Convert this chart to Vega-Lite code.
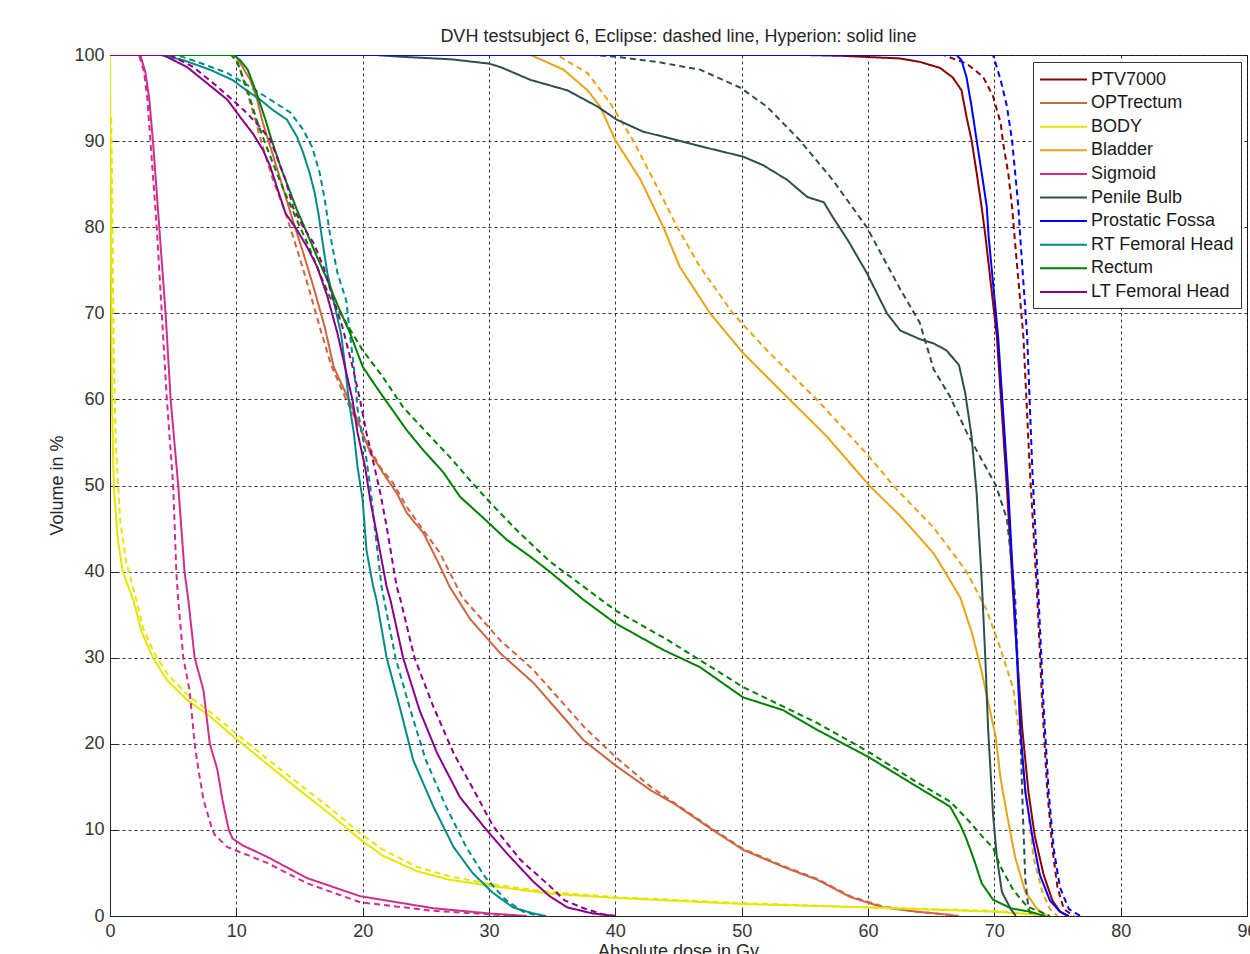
{
"$schema":"https://vega.github.io/schema/vega-lite/v6.json",
"width":1137,"height":861,
"autosize":{"type":"none"},
"padding":{"left":110,"top":55,"right":3,"bottom":38},
"background":"white",
"title":{"text":"DVH testsubject 6, Eclipse: dashed line, Hyperion: solid line","fontSize":18,"fontWeight":"normal","color":"#262626","font":"Liberation Sans","anchor":"middle","offset":0},
"datasets":{"dvh":[
{"roi":"PTV7000","plan":"Hyperion","dose":0,"vol":100},{"roi":"PTV7000","plan":"Hyperion","dose":55,"vol":100},{"roi":"PTV7000","plan":"Hyperion","dose":58,"vol":99.9},{"roi":"PTV7000","plan":"Hyperion","dose":62.5,"vol":99.6},{"roi":"PTV7000","plan":"Hyperion","dose":64.1,"vol":99.2},{"roi":"PTV7000","plan":"Hyperion","dose":65.7,"vol":98.5},{"roi":"PTV7000","plan":"Hyperion","dose":66.7,"vol":97.4},{"roi":"PTV7000","plan":"Hyperion","dose":67.4,"vol":95.9},{"roi":"PTV7000","plan":"Hyperion","dose":67.8,"vol":92.8},{"roi":"PTV7000","plan":"Hyperion","dose":68.2,"vol":90.1},{"roi":"PTV7000","plan":"Hyperion","dose":68.6,"vol":86.3},{"roi":"PTV7000","plan":"Hyperion","dose":69,"vol":82.3},{"roi":"PTV7000","plan":"Hyperion","dose":69.3,"vol":78.9},{"roi":"PTV7000","plan":"Hyperion","dose":70.2,"vol":67.3},{"roi":"PTV7000","plan":"Hyperion","dose":71,"vol":49.6},{"roi":"PTV7000","plan":"Hyperion","dose":71.6,"vol":34.5},{"roi":"PTV7000","plan":"Hyperion","dose":72.2,"vol":21.9},{"roi":"PTV7000","plan":"Hyperion","dose":72.7,"vol":14.4},{"roi":"PTV7000","plan":"Hyperion","dose":73.2,"vol":9.3},{"roi":"PTV7000","plan":"Hyperion","dose":73.9,"vol":4.8},{"roi":"PTV7000","plan":"Hyperion","dose":74.6,"vol":1.8},{"roi":"PTV7000","plan":"Hyperion","dose":75.2,"vol":0.5},{"roi":"PTV7000","plan":"Hyperion","dose":75.8,"vol":0},
{"roi":"PTV7000","plan":"Eclipse","dose":0,"vol":100},{"roi":"PTV7000","plan":"Eclipse","dose":66,"vol":100},{"roi":"PTV7000","plan":"Eclipse","dose":67.8,"vol":99},{"roi":"PTV7000","plan":"Eclipse","dose":69.1,"vol":97.5},{"roi":"PTV7000","plan":"Eclipse","dose":69.9,"vol":95.2},{"roi":"PTV7000","plan":"Eclipse","dose":70.5,"vol":92.1},{"roi":"PTV7000","plan":"Eclipse","dose":70.7,"vol":89.7},{"roi":"PTV7000","plan":"Eclipse","dose":71.1,"vol":86.3},{"roi":"PTV7000","plan":"Eclipse","dose":71.4,"vol":82.4},{"roi":"PTV7000","plan":"Eclipse","dose":71.6,"vol":78.9},{"roi":"PTV7000","plan":"Eclipse","dose":72.3,"vol":67.3},{"roi":"PTV7000","plan":"Eclipse","dose":72.8,"vol":52.1},{"roi":"PTV7000","plan":"Eclipse","dose":73.4,"vol":37},{"roi":"PTV7000","plan":"Eclipse","dose":73.8,"vol":24.4},{"roi":"PTV7000","plan":"Eclipse","dose":74.2,"vol":14.4},{"roi":"PTV7000","plan":"Eclipse","dose":74.6,"vol":7.8},{"roi":"PTV7000","plan":"Eclipse","dose":75,"vol":3.3},{"roi":"PTV7000","plan":"Eclipse","dose":75.5,"vol":0.8},{"roi":"PTV7000","plan":"Eclipse","dose":76.3,"vol":0},
{"roi":"OPTrectum","plan":"Hyperion","dose":0,"vol":100},{"roi":"OPTrectum","plan":"Hyperion","dose":9.9,"vol":100},{"roi":"OPTrectum","plan":"Hyperion","dose":10.5,"vol":98.6},{"roi":"OPTrectum","plan":"Hyperion","dose":11.1,"vol":97.1},{"roi":"OPTrectum","plan":"Hyperion","dose":11.6,"vol":95.1},{"roi":"OPTrectum","plan":"Hyperion","dose":12.1,"vol":92.1},{"roi":"OPTrectum","plan":"Hyperion","dose":12.7,"vol":89.3},{"roi":"OPTrectum","plan":"Hyperion","dose":13.5,"vol":85.5},{"roi":"OPTrectum","plan":"Hyperion","dose":14.3,"vol":81.6},{"roi":"OPTrectum","plan":"Hyperion","dose":15.3,"vol":77},{"roi":"OPTrectum","plan":"Hyperion","dose":16.1,"vol":73.1},{"roi":"OPTrectum","plan":"Hyperion","dose":17,"vol":68.4},{"roi":"OPTrectum","plan":"Hyperion","dose":17.7,"vol":63.8},{"roi":"OPTrectum","plan":"Hyperion","dose":18.8,"vol":60.3},{"roi":"OPTrectum","plan":"Hyperion","dose":19.6,"vol":57.6},{"roi":"OPTrectum","plan":"Hyperion","dose":20.6,"vol":53.8},{"roi":"OPTrectum","plan":"Hyperion","dose":21.6,"vol":51.5},{"roi":"OPTrectum","plan":"Hyperion","dose":22.7,"vol":49.1},{"roi":"OPTrectum","plan":"Hyperion","dose":23.5,"vol":46.8},{"roi":"OPTrectum","plan":"Hyperion","dose":24.8,"vol":44.5},{"roi":"OPTrectum","plan":"Hyperion","dose":25.9,"vol":41.3},{"roi":"OPTrectum","plan":"Hyperion","dose":26.9,"vol":38.2},{"roi":"OPTrectum","plan":"Hyperion","dose":28.5,"vol":34.5},{"roi":"OPTrectum","plan":"Hyperion","dose":30.9,"vol":30.5},{"roi":"OPTrectum","plan":"Hyperion","dose":33.5,"vol":27.1},{"roi":"OPTrectum","plan":"Hyperion","dose":37.5,"vol":20.4},{"roi":"OPTrectum","plan":"Hyperion","dose":40,"vol":17.5},{"roi":"OPTrectum","plan":"Hyperion","dose":42.8,"vol":14.6},{"roi":"OPTrectum","plan":"Hyperion","dose":44.6,"vol":13.1},{"roi":"OPTrectum","plan":"Hyperion","dose":47.7,"vol":10},{"roi":"OPTrectum","plan":"Hyperion","dose":50.1,"vol":7.7},{"roi":"OPTrectum","plan":"Hyperion","dose":53.3,"vol":5.7},{"roi":"OPTrectum","plan":"Hyperion","dose":56,"vol":4.2},{"roi":"OPTrectum","plan":"Hyperion","dose":58.6,"vol":2.2},{"roi":"OPTrectum","plan":"Hyperion","dose":61.2,"vol":1},{"roi":"OPTrectum","plan":"Hyperion","dose":63.9,"vol":0.5},{"roi":"OPTrectum","plan":"Hyperion","dose":66.7,"vol":0.1},{"roi":"OPTrectum","plan":"Hyperion","dose":67,"vol":0},
{"roi":"OPTrectum","plan":"Eclipse","dose":0,"vol":100},{"roi":"OPTrectum","plan":"Eclipse","dose":9.8,"vol":100},{"roi":"OPTrectum","plan":"Eclipse","dose":10.3,"vol":98.3},{"roi":"OPTrectum","plan":"Eclipse","dose":10.8,"vol":95.9},{"roi":"OPTrectum","plan":"Eclipse","dose":11.5,"vol":92.5},{"roi":"OPTrectum","plan":"Eclipse","dose":12.1,"vol":89.3},{"roi":"OPTrectum","plan":"Eclipse","dose":12.9,"vol":85.5},{"roi":"OPTrectum","plan":"Eclipse","dose":13.9,"vol":81.6},{"roi":"OPTrectum","plan":"Eclipse","dose":14.9,"vol":77},{"roi":"OPTrectum","plan":"Eclipse","dose":15.7,"vol":73.1},{"roi":"OPTrectum","plan":"Eclipse","dose":16.6,"vol":68.4},{"roi":"OPTrectum","plan":"Eclipse","dose":17.5,"vol":64},{"roi":"OPTrectum","plan":"Eclipse","dose":18.6,"vol":60.3},{"roi":"OPTrectum","plan":"Eclipse","dose":19.5,"vol":57.5},{"roi":"OPTrectum","plan":"Eclipse","dose":20.2,"vol":55.3},{"roi":"OPTrectum","plan":"Eclipse","dose":21.4,"vol":52.1},{"roi":"OPTrectum","plan":"Eclipse","dose":22.4,"vol":50.3},{"roi":"OPTrectum","plan":"Eclipse","dose":23.5,"vol":47.5},{"roi":"OPTrectum","plan":"Eclipse","dose":24.8,"vol":44.8},{"roi":"OPTrectum","plan":"Eclipse","dose":26.1,"vol":42.2},{"roi":"OPTrectum","plan":"Eclipse","dose":27.9,"vol":37},{"roi":"OPTrectum","plan":"Eclipse","dose":30.9,"vol":32},{"roi":"OPTrectum","plan":"Eclipse","dose":33.5,"vol":28.6},{"roi":"OPTrectum","plan":"Eclipse","dose":37.5,"vol":22},{"roi":"OPTrectum","plan":"Eclipse","dose":40,"vol":18.5},{"roi":"OPTrectum","plan":"Eclipse","dose":42.8,"vol":15},{"roi":"OPTrectum","plan":"Eclipse","dose":44.6,"vol":13.2},{"roi":"OPTrectum","plan":"Eclipse","dose":47.7,"vol":10.1},{"roi":"OPTrectum","plan":"Eclipse","dose":50.1,"vol":7.8},{"roi":"OPTrectum","plan":"Eclipse","dose":53.3,"vol":5.8},{"roi":"OPTrectum","plan":"Eclipse","dose":56,"vol":4.3},{"roi":"OPTrectum","plan":"Eclipse","dose":58.6,"vol":2.3},{"roi":"OPTrectum","plan":"Eclipse","dose":61.2,"vol":1.1},{"roi":"OPTrectum","plan":"Eclipse","dose":63.9,"vol":0.5},{"roi":"OPTrectum","plan":"Eclipse","dose":66.7,"vol":0.1},{"roi":"OPTrectum","plan":"Eclipse","dose":67.2,"vol":0},
{"roi":"BODY","plan":"Hyperion","dose":0,"vol":100},{"roi":"BODY","plan":"Hyperion","dose":0.05,"vol":85},{"roi":"BODY","plan":"Hyperion","dose":0.1,"vol":70},{"roi":"BODY","plan":"Hyperion","dose":0.15,"vol":60},{"roi":"BODY","plan":"Hyperion","dose":0.3,"vol":50},{"roi":"BODY","plan":"Hyperion","dose":0.6,"vol":44},{"roi":"BODY","plan":"Hyperion","dose":1,"vol":40},{"roi":"BODY","plan":"Hyperion","dose":1.85,"vol":36.7},{"roi":"BODY","plan":"Hyperion","dose":2.5,"vol":33},{"roi":"BODY","plan":"Hyperion","dose":3.4,"vol":30},{"roi":"BODY","plan":"Hyperion","dose":4.5,"vol":27.4},{"roi":"BODY","plan":"Hyperion","dose":6.1,"vol":25.1},{"roi":"BODY","plan":"Hyperion","dose":7.9,"vol":23.2},{"roi":"BODY","plan":"Hyperion","dose":9.8,"vol":20.8},{"roi":"BODY","plan":"Hyperion","dose":12.4,"vol":17.7},{"roi":"BODY","plan":"Hyperion","dose":15,"vol":14.6},{"roi":"BODY","plan":"Hyperion","dose":17.7,"vol":11.5},{"roi":"BODY","plan":"Hyperion","dose":19.8,"vol":8.9},{"roi":"BODY","plan":"Hyperion","dose":21.6,"vol":7},{"roi":"BODY","plan":"Hyperion","dose":24.3,"vol":5.2},{"roi":"BODY","plan":"Hyperion","dose":26.9,"vol":4.2},{"roi":"BODY","plan":"Hyperion","dose":30.1,"vol":3.5},{"roi":"BODY","plan":"Hyperion","dose":34.8,"vol":2.6},{"roi":"BODY","plan":"Hyperion","dose":40,"vol":2.1},{"roi":"BODY","plan":"Hyperion","dose":50,"vol":1.4},{"roi":"BODY","plan":"Hyperion","dose":60,"vol":1},{"roi":"BODY","plan":"Hyperion","dose":70,"vol":0.5},{"roi":"BODY","plan":"Hyperion","dose":73,"vol":0.2},{"roi":"BODY","plan":"Hyperion","dose":74,"vol":0},
{"roi":"BODY","plan":"Eclipse","dose":0.1,"vol":92.7},{"roi":"BODY","plan":"Eclipse","dose":0.2,"vol":80},{"roi":"BODY","plan":"Eclipse","dose":0.3,"vol":65},{"roi":"BODY","plan":"Eclipse","dose":0.45,"vol":55},{"roi":"BODY","plan":"Eclipse","dose":0.8,"vol":46},{"roi":"BODY","plan":"Eclipse","dose":1.3,"vol":41},{"roi":"BODY","plan":"Eclipse","dose":2,"vol":37.2},{"roi":"BODY","plan":"Eclipse","dose":2.6,"vol":33.5},{"roi":"BODY","plan":"Eclipse","dose":3.5,"vol":30.5},{"roi":"BODY","plan":"Eclipse","dose":4.6,"vol":28},{"roi":"BODY","plan":"Eclipse","dose":6.2,"vol":25.6},{"roi":"BODY","plan":"Eclipse","dose":8,"vol":23.6},{"roi":"BODY","plan":"Eclipse","dose":10,"vol":21.2},{"roi":"BODY","plan":"Eclipse","dose":12.4,"vol":18.3},{"roi":"BODY","plan":"Eclipse","dose":15,"vol":15.3},{"roi":"BODY","plan":"Eclipse","dose":17.7,"vol":12.2},{"roi":"BODY","plan":"Eclipse","dose":19.8,"vol":9.6},{"roi":"BODY","plan":"Eclipse","dose":21.6,"vol":7.7},{"roi":"BODY","plan":"Eclipse","dose":24.3,"vol":5.7},{"roi":"BODY","plan":"Eclipse","dose":26.9,"vol":4.6},{"roi":"BODY","plan":"Eclipse","dose":30.1,"vol":3.7},{"roi":"BODY","plan":"Eclipse","dose":34.8,"vol":2.8},{"roi":"BODY","plan":"Eclipse","dose":40,"vol":2.2},{"roi":"BODY","plan":"Eclipse","dose":50,"vol":1.5},{"roi":"BODY","plan":"Eclipse","dose":60,"vol":1},{"roi":"BODY","plan":"Eclipse","dose":70,"vol":0.6},{"roi":"BODY","plan":"Eclipse","dose":73,"vol":0.2},{"roi":"BODY","plan":"Eclipse","dose":74.5,"vol":0},
{"roi":"Bladder","plan":"Hyperion","dose":0,"vol":100},{"roi":"Bladder","plan":"Hyperion","dose":33.3,"vol":100},{"roi":"Bladder","plan":"Hyperion","dose":35.9,"vol":98.3},{"roi":"Bladder","plan":"Hyperion","dose":37.8,"vol":95.9},{"roi":"Bladder","plan":"Hyperion","dose":38.8,"vol":94},{"roi":"Bladder","plan":"Hyperion","dose":40,"vol":90.1},{"roi":"Bladder","plan":"Hyperion","dose":42,"vol":85.5},{"roi":"Bladder","plan":"Hyperion","dose":43.8,"vol":80},{"roi":"Bladder","plan":"Hyperion","dose":45.1,"vol":75.4},{"roi":"Bladder","plan":"Hyperion","dose":47.5,"vol":70},{"roi":"Bladder","plan":"Hyperion","dose":50.1,"vol":65.4},{"roi":"Bladder","plan":"Hyperion","dose":53.3,"vol":60.7},{"roi":"Bladder","plan":"Hyperion","dose":56.8,"vol":55.6},{"roi":"Bladder","plan":"Hyperion","dose":60.1,"vol":50},{"roi":"Bladder","plan":"Hyperion","dose":62.6,"vol":46.4},{"roi":"Bladder","plan":"Hyperion","dose":65.2,"vol":42.1},{"roi":"Bladder","plan":"Hyperion","dose":66,"vol":40.2},{"roi":"Bladder","plan":"Hyperion","dose":67.3,"vol":37},{"roi":"Bladder","plan":"Hyperion","dose":68.2,"vol":33},{"roi":"Bladder","plan":"Hyperion","dose":68.9,"vol":29},{"roi":"Bladder","plan":"Hyperion","dose":69.5,"vol":24.9},{"roi":"Bladder","plan":"Hyperion","dose":70.1,"vol":20.9},{"roi":"Bladder","plan":"Hyperion","dose":70.5,"vol":15.9},{"roi":"Bladder","plan":"Hyperion","dose":71,"vol":11.8},{"roi":"Bladder","plan":"Hyperion","dose":71.65,"vol":6.8},{"roi":"Bladder","plan":"Hyperion","dose":72.45,"vol":2.8},{"roi":"Bladder","plan":"Hyperion","dose":73.4,"vol":0.8},{"roi":"Bladder","plan":"Hyperion","dose":74.2,"vol":0},
{"roi":"Bladder","plan":"Eclipse","dose":0,"vol":100},{"roi":"Bladder","plan":"Eclipse","dose":35.4,"vol":100},{"roi":"Bladder","plan":"Eclipse","dose":37.8,"vol":97.9},{"roi":"Bladder","plan":"Eclipse","dose":39.6,"vol":94.4},{"roi":"Bladder","plan":"Eclipse","dose":41.4,"vol":90.1},{"roi":"Bladder","plan":"Eclipse","dose":43.3,"vol":84.7},{"roi":"Bladder","plan":"Eclipse","dose":44.9,"vol":80},{"roi":"Bladder","plan":"Eclipse","dose":46.7,"vol":75.4},{"roi":"Bladder","plan":"Eclipse","dose":49.3,"vol":70},{"roi":"Bladder","plan":"Eclipse","dose":52,"vol":65.7},{"roi":"Bladder","plan":"Eclipse","dose":56,"vol":59.9},{"roi":"Bladder","plan":"Eclipse","dose":60,"vol":53.5},{"roi":"Bladder","plan":"Eclipse","dose":62.3,"vol":49.5},{"roi":"Bladder","plan":"Eclipse","dose":65.2,"vol":45.1},{"roi":"Bladder","plan":"Eclipse","dose":67.8,"vol":40},{"roi":"Bladder","plan":"Eclipse","dose":69.4,"vol":35.5},{"roi":"Bladder","plan":"Eclipse","dose":70.5,"vol":31},{"roi":"Bladder","plan":"Eclipse","dose":71.5,"vol":26.4},{"roi":"Bladder","plan":"Eclipse","dose":71.9,"vol":21.9},{"roi":"Bladder","plan":"Eclipse","dose":72.3,"vol":16.9},{"roi":"Bladder","plan":"Eclipse","dose":72.7,"vol":11.8},{"roi":"Bladder","plan":"Eclipse","dose":73.1,"vol":6.8},{"roi":"Bladder","plan":"Eclipse","dose":73.8,"vol":2.8},{"roi":"Bladder","plan":"Eclipse","dose":74.4,"vol":0.8},{"roi":"Bladder","plan":"Eclipse","dose":75,"vol":0},
{"roi":"Sigmoid","plan":"Hyperion","dose":0,"vol":100},{"roi":"Sigmoid","plan":"Hyperion","dose":2.4,"vol":100},{"roi":"Sigmoid","plan":"Hyperion","dose":2.8,"vol":98},{"roi":"Sigmoid","plan":"Hyperion","dose":3.1,"vol":95},{"roi":"Sigmoid","plan":"Hyperion","dose":3.4,"vol":90},{"roi":"Sigmoid","plan":"Hyperion","dose":3.9,"vol":80},{"roi":"Sigmoid","plan":"Hyperion","dose":4.4,"vol":70},{"roi":"Sigmoid","plan":"Hyperion","dose":4.8,"vol":60},{"roi":"Sigmoid","plan":"Hyperion","dose":5.4,"vol":50},{"roi":"Sigmoid","plan":"Hyperion","dose":5.9,"vol":40},{"roi":"Sigmoid","plan":"Hyperion","dose":6.2,"vol":36.7},{"roi":"Sigmoid","plan":"Hyperion","dose":6.7,"vol":30},{"roi":"Sigmoid","plan":"Hyperion","dose":7.4,"vol":26.2},{"roi":"Sigmoid","plan":"Hyperion","dose":7.9,"vol":20},{"roi":"Sigmoid","plan":"Hyperion","dose":8.5,"vol":17},{"roi":"Sigmoid","plan":"Hyperion","dose":8.9,"vol":13.5},{"roi":"Sigmoid","plan":"Hyperion","dose":9.4,"vol":10},{"roi":"Sigmoid","plan":"Hyperion","dose":9.7,"vol":9},{"roi":"Sigmoid","plan":"Hyperion","dose":10.5,"vol":8.2},{"roi":"Sigmoid","plan":"Hyperion","dose":12.4,"vol":6.9},{"roi":"Sigmoid","plan":"Hyperion","dose":15.6,"vol":4.4},{"roi":"Sigmoid","plan":"Hyperion","dose":19.8,"vol":2.3},{"roi":"Sigmoid","plan":"Hyperion","dose":25.6,"vol":0.9},{"roi":"Sigmoid","plan":"Hyperion","dose":30,"vol":0.3},{"roi":"Sigmoid","plan":"Hyperion","dose":33,"vol":0},
{"roi":"Sigmoid","plan":"Eclipse","dose":0,"vol":100},{"roi":"Sigmoid","plan":"Eclipse","dose":2.3,"vol":100},{"roi":"Sigmoid","plan":"Eclipse","dose":2.7,"vol":98},{"roi":"Sigmoid","plan":"Eclipse","dose":2.95,"vol":95},{"roi":"Sigmoid","plan":"Eclipse","dose":3.2,"vol":90},{"roi":"Sigmoid","plan":"Eclipse","dose":3.7,"vol":80},{"roi":"Sigmoid","plan":"Eclipse","dose":4.1,"vol":70},{"roi":"Sigmoid","plan":"Eclipse","dose":4.5,"vol":60},{"roi":"Sigmoid","plan":"Eclipse","dose":5,"vol":50},{"roi":"Sigmoid","plan":"Eclipse","dose":5.25,"vol":40},{"roi":"Sigmoid","plan":"Eclipse","dose":5.4,"vol":36.7},{"roi":"Sigmoid","plan":"Eclipse","dose":5.8,"vol":30},{"roi":"Sigmoid","plan":"Eclipse","dose":6.3,"vol":26.2},{"roi":"Sigmoid","plan":"Eclipse","dose":6.7,"vol":20},{"roi":"Sigmoid","plan":"Eclipse","dose":7,"vol":17},{"roi":"Sigmoid","plan":"Eclipse","dose":7.4,"vol":13.5},{"roi":"Sigmoid","plan":"Eclipse","dose":8.1,"vol":10},{"roi":"Sigmoid","plan":"Eclipse","dose":8.3,"vol":9.4},{"roi":"Sigmoid","plan":"Eclipse","dose":9.3,"vol":8},{"roi":"Sigmoid","plan":"Eclipse","dose":12.4,"vol":6.2},{"roi":"Sigmoid","plan":"Eclipse","dose":15.6,"vol":3.8},{"roi":"Sigmoid","plan":"Eclipse","dose":19.8,"vol":1.6},{"roi":"Sigmoid","plan":"Eclipse","dose":25.6,"vol":0.6},{"roi":"Sigmoid","plan":"Eclipse","dose":30,"vol":0.2},{"roi":"Sigmoid","plan":"Eclipse","dose":32,"vol":0},
{"roi":"Penile Bulb","plan":"Hyperion","dose":0,"vol":100},{"roi":"Penile Bulb","plan":"Hyperion","dose":21,"vol":100},{"roi":"Penile Bulb","plan":"Hyperion","dose":23,"vol":99.8},{"roi":"Penile Bulb","plan":"Hyperion","dose":27,"vol":99.5},{"roi":"Penile Bulb","plan":"Hyperion","dose":30,"vol":99},{"roi":"Penile Bulb","plan":"Hyperion","dose":30.9,"vol":98.6},{"roi":"Penile Bulb","plan":"Hyperion","dose":33.3,"vol":97.1},{"roi":"Penile Bulb","plan":"Hyperion","dose":36.2,"vol":95.9},{"roi":"Penile Bulb","plan":"Hyperion","dose":38.6,"vol":94},{"roi":"Penile Bulb","plan":"Hyperion","dose":40.1,"vol":92.5},{"roi":"Penile Bulb","plan":"Hyperion","dose":42.2,"vol":91.1},{"roi":"Penile Bulb","plan":"Hyperion","dose":44.1,"vol":90.4},{"roi":"Penile Bulb","plan":"Hyperion","dose":47.3,"vol":89.2},{"roi":"Penile Bulb","plan":"Hyperion","dose":50.1,"vol":88.2},{"roi":"Penile Bulb","plan":"Hyperion","dose":51.7,"vol":87.2},{"roi":"Penile Bulb","plan":"Hyperion","dose":53.6,"vol":85.5},{"roi":"Penile Bulb","plan":"Hyperion","dose":55.2,"vol":83.5},{"roi":"Penile Bulb","plan":"Hyperion","dose":56.5,"vol":82.9},{"roi":"Penile Bulb","plan":"Hyperion","dose":57.2,"vol":81.2},{"roi":"Penile Bulb","plan":"Hyperion","dose":58.4,"vol":78.5},{"roi":"Penile Bulb","plan":"Hyperion","dose":59.9,"vol":74.7},{"roi":"Penile Bulb","plan":"Hyperion","dose":61.5,"vol":70},{"roi":"Penile Bulb","plan":"Hyperion","dose":62.55,"vol":68},{"roi":"Penile Bulb","plan":"Hyperion","dose":64.1,"vol":67},{"roi":"Penile Bulb","plan":"Hyperion","dose":65.2,"vol":66.5},{"roi":"Penile Bulb","plan":"Hyperion","dose":66.2,"vol":65.7},{"roi":"Penile Bulb","plan":"Hyperion","dose":67.2,"vol":64},{"roi":"Penile Bulb","plan":"Hyperion","dose":67.7,"vol":60.7},{"roi":"Penile Bulb","plan":"Hyperion","dose":68.2,"vol":55.7},{"roi":"Penile Bulb","plan":"Hyperion","dose":68.6,"vol":49.1},{"roi":"Penile Bulb","plan":"Hyperion","dose":69,"vol":39},{"roi":"Penile Bulb","plan":"Hyperion","dose":69.3,"vol":29.5},{"roi":"Penile Bulb","plan":"Hyperion","dose":69.5,"vol":21.9},{"roi":"Penile Bulb","plan":"Hyperion","dose":69.9,"vol":11.8},{"roi":"Penile Bulb","plan":"Hyperion","dose":70.2,"vol":6.8},{"roi":"Penile Bulb","plan":"Hyperion","dose":70.6,"vol":2.8},{"roi":"Penile Bulb","plan":"Hyperion","dose":71.3,"vol":0.8},{"roi":"Penile Bulb","plan":"Hyperion","dose":71.7,"vol":0},
{"roi":"Penile Bulb","plan":"Eclipse","dose":0,"vol":100},{"roi":"Penile Bulb","plan":"Eclipse","dose":38.3,"vol":100},{"roi":"Penile Bulb","plan":"Eclipse","dose":40.1,"vol":99.8},{"roi":"Penile Bulb","plan":"Eclipse","dose":43.3,"vol":99.2},{"roi":"Penile Bulb","plan":"Eclipse","dose":46.7,"vol":98.3},{"roi":"Penile Bulb","plan":"Eclipse","dose":49.9,"vol":96.2},{"roi":"Penile Bulb","plan":"Eclipse","dose":52,"vol":94},{"roi":"Penile Bulb","plan":"Eclipse","dose":54.6,"vol":90.1},{"roi":"Penile Bulb","plan":"Eclipse","dose":57.2,"vol":85.5},{"roi":"Penile Bulb","plan":"Eclipse","dose":59.9,"vol":80},{"roi":"Penile Bulb","plan":"Eclipse","dose":62.55,"vol":72.8},{"roi":"Penile Bulb","plan":"Eclipse","dose":64.1,"vol":68.9},{"roi":"Penile Bulb","plan":"Eclipse","dose":65.2,"vol":63.5},{"roi":"Penile Bulb","plan":"Eclipse","dose":66.5,"vol":60.3},{"roi":"Penile Bulb","plan":"Eclipse","dose":67.8,"vol":56.2},{"roi":"Penile Bulb","plan":"Eclipse","dose":69,"vol":53},{"roi":"Penile Bulb","plan":"Eclipse","dose":70.1,"vol":50.1},{"roi":"Penile Bulb","plan":"Eclipse","dose":71,"vol":46.1},{"roi":"Penile Bulb","plan":"Eclipse","dose":71.65,"vol":37},{"roi":"Penile Bulb","plan":"Eclipse","dose":72.05,"vol":21.9},{"roi":"Penile Bulb","plan":"Eclipse","dose":72.26,"vol":11.8},{"roi":"Penile Bulb","plan":"Eclipse","dose":72.45,"vol":4.3},{"roi":"Penile Bulb","plan":"Eclipse","dose":72.7,"vol":0.8},{"roi":"Penile Bulb","plan":"Eclipse","dose":73,"vol":0},
{"roi":"Prostatic Fossa","plan":"Hyperion","dose":0,"vol":100},{"roi":"Prostatic Fossa","plan":"Hyperion","dose":67,"vol":100},{"roi":"Prostatic Fossa","plan":"Hyperion","dose":67.4,"vol":99.4},{"roi":"Prostatic Fossa","plan":"Hyperion","dose":67.8,"vol":97.4},{"roi":"Prostatic Fossa","plan":"Hyperion","dose":68.2,"vol":94},{"roi":"Prostatic Fossa","plan":"Hyperion","dose":68.6,"vol":90.1},{"roi":"Prostatic Fossa","plan":"Hyperion","dose":69,"vol":86.3},{"roi":"Prostatic Fossa","plan":"Hyperion","dose":69.4,"vol":82.4},{"roi":"Prostatic Fossa","plan":"Hyperion","dose":69.55,"vol":78.9},{"roi":"Prostatic Fossa","plan":"Hyperion","dose":70.3,"vol":67.3},{"roi":"Prostatic Fossa","plan":"Hyperion","dose":71.1,"vol":49.6},{"roi":"Prostatic Fossa","plan":"Hyperion","dose":71.65,"vol":34.5},{"roi":"Prostatic Fossa","plan":"Hyperion","dose":72.05,"vol":21.9},{"roi":"Prostatic Fossa","plan":"Hyperion","dose":72.45,"vol":14.4},{"roi":"Prostatic Fossa","plan":"Hyperion","dose":73,"vol":9.3},{"roi":"Prostatic Fossa","plan":"Hyperion","dose":73.6,"vol":4.8},{"roi":"Prostatic Fossa","plan":"Hyperion","dose":74.4,"vol":1.8},{"roi":"Prostatic Fossa","plan":"Hyperion","dose":75.2,"vol":0.5},{"roi":"Prostatic Fossa","plan":"Hyperion","dose":75.9,"vol":0},
{"roi":"Prostatic Fossa","plan":"Eclipse","dose":0,"vol":100},{"roi":"Prostatic Fossa","plan":"Eclipse","dose":69.9,"vol":100},{"roi":"Prostatic Fossa","plan":"Eclipse","dose":70.5,"vol":97.1},{"roi":"Prostatic Fossa","plan":"Eclipse","dose":71,"vol":94},{"roi":"Prostatic Fossa","plan":"Eclipse","dose":71.4,"vol":90.1},{"roi":"Prostatic Fossa","plan":"Eclipse","dose":71.65,"vol":86.3},{"roi":"Prostatic Fossa","plan":"Eclipse","dose":71.9,"vol":82.4},{"roi":"Prostatic Fossa","plan":"Eclipse","dose":72.05,"vol":78.9},{"roi":"Prostatic Fossa","plan":"Eclipse","dose":72.6,"vol":67.3},{"roi":"Prostatic Fossa","plan":"Eclipse","dose":73,"vol":52.1},{"roi":"Prostatic Fossa","plan":"Eclipse","dose":73.5,"vol":37},{"roi":"Prostatic Fossa","plan":"Eclipse","dose":73.9,"vol":24.4},{"roi":"Prostatic Fossa","plan":"Eclipse","dose":74.3,"vol":14.4},{"roi":"Prostatic Fossa","plan":"Eclipse","dose":74.7,"vol":7.8},{"roi":"Prostatic Fossa","plan":"Eclipse","dose":75.2,"vol":3.3},{"roi":"Prostatic Fossa","plan":"Eclipse","dose":75.9,"vol":0.8},{"roi":"Prostatic Fossa","plan":"Eclipse","dose":76.8,"vol":0},
{"roi":"RT Femoral Head","plan":"Hyperion","dose":0,"vol":100},{"roi":"RT Femoral Head","plan":"Hyperion","dose":4,"vol":100},{"roi":"RT Femoral Head","plan":"Hyperion","dose":5.8,"vol":99.4},{"roi":"RT Femoral Head","plan":"Hyperion","dose":7.9,"vol":98.3},{"roi":"RT Femoral Head","plan":"Hyperion","dose":9.7,"vol":97.1},{"roi":"RT Femoral Head","plan":"Hyperion","dose":10.8,"vol":95.9},{"roi":"RT Femoral Head","plan":"Hyperion","dose":11.9,"vol":94.8},{"roi":"RT Femoral Head","plan":"Hyperion","dose":12.9,"vol":93.6},{"roi":"RT Femoral Head","plan":"Hyperion","dose":14,"vol":92.5},{"roi":"RT Femoral Head","plan":"Hyperion","dose":14.8,"vol":90.5},{"roi":"RT Femoral Head","plan":"Hyperion","dose":15.3,"vol":88.6},{"roi":"RT Femoral Head","plan":"Hyperion","dose":15.8,"vol":86.3},{"roi":"RT Femoral Head","plan":"Hyperion","dose":16.2,"vol":84},{"roi":"RT Femoral Head","plan":"Hyperion","dose":16.5,"vol":81.6},{"roi":"RT Femoral Head","plan":"Hyperion","dose":16.8,"vol":78.5},{"roi":"RT Femoral Head","plan":"Hyperion","dose":17.2,"vol":74.7},{"roi":"RT Femoral Head","plan":"Hyperion","dose":17.8,"vol":70.8},{"roi":"RT Femoral Head","plan":"Hyperion","dose":18.3,"vol":67.5},{"roi":"RT Femoral Head","plan":"Hyperion","dose":18.6,"vol":64},{"roi":"RT Femoral Head","plan":"Hyperion","dose":18.9,"vol":59.9},{"roi":"RT Femoral Head","plan":"Hyperion","dose":19.3,"vol":56.1},{"roi":"RT Femoral Head","plan":"Hyperion","dose":19.6,"vol":52.1},{"roi":"RT Femoral Head","plan":"Hyperion","dose":20,"vol":48.3},{"roi":"RT Femoral Head","plan":"Hyperion","dose":20.3,"vol":42.5},{"roi":"RT Femoral Head","plan":"Hyperion","dose":20.8,"vol":38.5},{"roi":"RT Femoral Head","plan":"Hyperion","dose":21.1,"vol":36.7},{"roi":"RT Femoral Head","plan":"Hyperion","dose":21.9,"vol":30},{"roi":"RT Femoral Head","plan":"Hyperion","dose":23,"vol":23.9},{"roi":"RT Femoral Head","plan":"Hyperion","dose":24,"vol":18.1},{"roi":"RT Femoral Head","plan":"Hyperion","dose":25.6,"vol":12.7},{"roi":"RT Femoral Head","plan":"Hyperion","dose":27.2,"vol":8},{"roi":"RT Femoral Head","plan":"Hyperion","dose":28.7,"vol":5},{"roi":"RT Femoral Head","plan":"Hyperion","dose":30.3,"vol":2.7},{"roi":"RT Femoral Head","plan":"Hyperion","dose":31.9,"vol":1},{"roi":"RT Femoral Head","plan":"Hyperion","dose":33.5,"vol":0.3},{"roi":"RT Femoral Head","plan":"Hyperion","dose":34.5,"vol":0},
{"roi":"RT Femoral Head","plan":"Eclipse","dose":0,"vol":100},{"roi":"RT Femoral Head","plan":"Eclipse","dose":5.3,"vol":100},{"roi":"RT Femoral Head","plan":"Eclipse","dose":7.1,"vol":99.1},{"roi":"RT Femoral Head","plan":"Eclipse","dose":9.3,"vol":97.9},{"roi":"RT Femoral Head","plan":"Eclipse","dose":11.1,"vol":96.3},{"roi":"RT Femoral Head","plan":"Eclipse","dose":12.7,"vol":94.8},{"roi":"RT Femoral Head","plan":"Eclipse","dose":14.3,"vol":93.3},{"roi":"RT Femoral Head","plan":"Eclipse","dose":15.3,"vol":91.3},{"roi":"RT Femoral Head","plan":"Eclipse","dose":16,"vol":89.3},{"roi":"RT Femoral Head","plan":"Eclipse","dose":16.6,"vol":86.3},{"roi":"RT Femoral Head","plan":"Eclipse","dose":17,"vol":83.2},{"roi":"RT Femoral Head","plan":"Eclipse","dose":17.4,"vol":79.3},{"roi":"RT Femoral Head","plan":"Eclipse","dose":18,"vol":74.7},{"roi":"RT Femoral Head","plan":"Eclipse","dose":18.7,"vol":71.5},{"roi":"RT Femoral Head","plan":"Eclipse","dose":19,"vol":67.5},{"roi":"RT Femoral Head","plan":"Eclipse","dose":19.3,"vol":63.8},{"roi":"RT Femoral Head","plan":"Eclipse","dose":19.6,"vol":58.8},{"roi":"RT Femoral Head","plan":"Eclipse","dose":20.2,"vol":54.1},{"roi":"RT Femoral Head","plan":"Eclipse","dose":20.6,"vol":49.8},{"roi":"RT Femoral Head","plan":"Eclipse","dose":21,"vol":44.5},{"roi":"RT Femoral Head","plan":"Eclipse","dose":21.5,"vol":38.2},{"roi":"RT Femoral Head","plan":"Eclipse","dose":21.7,"vol":36.7},{"roi":"RT Femoral Head","plan":"Eclipse","dose":22.6,"vol":30},{"roi":"RT Femoral Head","plan":"Eclipse","dose":23.7,"vol":24.3},{"roi":"RT Femoral Head","plan":"Eclipse","dose":25,"vol":18.1},{"roi":"RT Femoral Head","plan":"Eclipse","dose":26.6,"vol":12.7},{"roi":"RT Femoral Head","plan":"Eclipse","dose":28.2,"vol":8},{"roi":"RT Femoral Head","plan":"Eclipse","dose":29.7,"vol":4.5},{"roi":"RT Femoral Head","plan":"Eclipse","dose":31.3,"vol":1.9},{"roi":"RT Femoral Head","plan":"Eclipse","dose":32.7,"vol":0.5},{"roi":"RT Femoral Head","plan":"Eclipse","dose":34,"vol":0},
{"roi":"Rectum","plan":"Hyperion","dose":0,"vol":100},{"roi":"Rectum","plan":"Hyperion","dose":9.8,"vol":100},{"roi":"Rectum","plan":"Hyperion","dose":10.3,"vol":99.4},{"roi":"Rectum","plan":"Hyperion","dose":10.9,"vol":98.3},{"roi":"Rectum","plan":"Hyperion","dose":11.6,"vol":95.6},{"roi":"Rectum","plan":"Hyperion","dose":12.3,"vol":92.5},{"roi":"Rectum","plan":"Hyperion","dose":12.8,"vol":90.1},{"roi":"Rectum","plan":"Hyperion","dose":13.5,"vol":87},{"roi":"Rectum","plan":"Hyperion","dose":14.1,"vol":84.7},{"roi":"Rectum","plan":"Hyperion","dose":14.8,"vol":82},{"roi":"Rectum","plan":"Hyperion","dose":15.6,"vol":79.3},{"roi":"Rectum","plan":"Hyperion","dose":16.4,"vol":76.5},{"roi":"Rectum","plan":"Hyperion","dose":17.2,"vol":73.9},{"roi":"Rectum","plan":"Hyperion","dose":18,"vol":71},{"roi":"Rectum","plan":"Hyperion","dose":19,"vol":67.7},{"roi":"Rectum","plan":"Hyperion","dose":20,"vol":63.8},{"roi":"Rectum","plan":"Hyperion","dose":21.1,"vol":61.4},{"roi":"Rectum","plan":"Hyperion","dose":22.2,"vol":59.1},{"roi":"Rectum","plan":"Hyperion","dose":23.5,"vol":56.4},{"roi":"Rectum","plan":"Hyperion","dose":24.8,"vol":54.1},{"roi":"Rectum","plan":"Hyperion","dose":26.4,"vol":51.5},{"roi":"Rectum","plan":"Hyperion","dose":27.7,"vol":48.7},{"roi":"Rectum","plan":"Hyperion","dose":29.5,"vol":46.3},{"roi":"Rectum","plan":"Hyperion","dose":31.4,"vol":43.7},{"roi":"Rectum","plan":"Hyperion","dose":33.3,"vol":41.7},{"roi":"Rectum","plan":"Hyperion","dose":34.8,"vol":40},{"roi":"Rectum","plan":"Hyperion","dose":37.5,"vol":36.7},{"roi":"Rectum","plan":"Hyperion","dose":40,"vol":34},{"roi":"Rectum","plan":"Hyperion","dose":43.8,"vol":30.9},{"roi":"Rectum","plan":"Hyperion","dose":46.7,"vol":28.9},{"roi":"Rectum","plan":"Hyperion","dose":50.1,"vol":25.4},{"roi":"Rectum","plan":"Hyperion","dose":53.3,"vol":23.9},{"roi":"Rectum","plan":"Hyperion","dose":56,"vol":21.6},{"roi":"Rectum","plan":"Hyperion","dose":60,"vol":18.5},{"roi":"Rectum","plan":"Hyperion","dose":63.9,"vol":15},{"roi":"Rectum","plan":"Hyperion","dose":66.5,"vol":12.7},{"roi":"Rectum","plan":"Hyperion","dose":67.3,"vol":10.6},{"roi":"Rectum","plan":"Hyperion","dose":67.8,"vol":8.9},{"roi":"Rectum","plan":"Hyperion","dose":68.4,"vol":6.5},{"roi":"Rectum","plan":"Hyperion","dose":69,"vol":3.8},{"roi":"Rectum","plan":"Hyperion","dose":69.9,"vol":1.9},{"roi":"Rectum","plan":"Hyperion","dose":71.3,"vol":0.9},{"roi":"Rectum","plan":"Hyperion","dose":72.8,"vol":0.5},{"roi":"Rectum","plan":"Hyperion","dose":74,"vol":0},
{"roi":"Rectum","plan":"Eclipse","dose":0,"vol":100},{"roi":"Rectum","plan":"Eclipse","dose":9.6,"vol":100},{"roi":"Rectum","plan":"Eclipse","dose":10.1,"vol":99.1},{"roi":"Rectum","plan":"Eclipse","dose":10.8,"vol":96.3},{"roi":"Rectum","plan":"Eclipse","dose":11.6,"vol":92.5},{"roi":"Rectum","plan":"Eclipse","dose":12.4,"vol":89.3},{"roi":"Rectum","plan":"Eclipse","dose":13.2,"vol":86.3},{"roi":"Rectum","plan":"Eclipse","dose":14,"vol":83.5},{"roi":"Rectum","plan":"Eclipse","dose":14.8,"vol":80.8},{"roi":"Rectum","plan":"Eclipse","dose":15.6,"vol":78.2},{"roi":"Rectum","plan":"Eclipse","dose":16.5,"vol":75},{"roi":"Rectum","plan":"Eclipse","dose":17.4,"vol":71.9},{"roi":"Rectum","plan":"Eclipse","dose":18.4,"vol":69.6},{"roi":"Rectum","plan":"Eclipse","dose":20,"vol":65.7},{"roi":"Rectum","plan":"Eclipse","dose":21.6,"vol":62.6},{"roi":"Rectum","plan":"Eclipse","dose":23.2,"vol":59.1},{"roi":"Rectum","plan":"Eclipse","dose":25.1,"vol":56.1},{"roi":"Rectum","plan":"Eclipse","dose":26.9,"vol":53.3},{"roi":"Rectum","plan":"Eclipse","dose":28.5,"vol":50.6},{"roi":"Rectum","plan":"Eclipse","dose":30.1,"vol":48},{"roi":"Rectum","plan":"Eclipse","dose":32.2,"vol":44.8},{"roi":"Rectum","plan":"Eclipse","dose":34.8,"vol":41.2},{"roi":"Rectum","plan":"Eclipse","dose":40,"vol":35.5},{"roi":"Rectum","plan":"Eclipse","dose":44.1,"vol":32.1},{"roi":"Rectum","plan":"Eclipse","dose":50.1,"vol":26.6},{"roi":"Rectum","plan":"Eclipse","dose":56,"vol":22.4},{"roi":"Rectum","plan":"Eclipse","dose":60,"vol":19.1},{"roi":"Rectum","plan":"Eclipse","dose":63.9,"vol":15.5},{"roi":"Rectum","plan":"Eclipse","dose":66.5,"vol":13.3},{"roi":"Rectum","plan":"Eclipse","dose":68,"vol":11},{"roi":"Rectum","plan":"Eclipse","dose":69,"vol":9.3},{"roi":"Rectum","plan":"Eclipse","dose":69.9,"vol":7.9},{"roi":"Rectum","plan":"Eclipse","dose":70.5,"vol":5.7},{"roi":"Rectum","plan":"Eclipse","dose":71.5,"vol":3},{"roi":"Rectum","plan":"Eclipse","dose":72.6,"vol":1.1},{"roi":"Rectum","plan":"Eclipse","dose":73.6,"vol":0.5},{"roi":"Rectum","plan":"Eclipse","dose":74.4,"vol":0},
{"roi":"LT Femoral Head","plan":"Hyperion","dose":0,"vol":100},{"roi":"LT Femoral Head","plan":"Hyperion","dose":4.2,"vol":100},{"roi":"LT Femoral Head","plan":"Hyperion","dose":6.1,"vol":98.6},{"roi":"LT Femoral Head","plan":"Hyperion","dose":7.7,"vol":96.7},{"roi":"LT Femoral Head","plan":"Hyperion","dose":9.3,"vol":94.8},{"roi":"LT Femoral Head","plan":"Hyperion","dose":10.3,"vol":92.8},{"roi":"LT Femoral Head","plan":"Hyperion","dose":11.3,"vol":90.9},{"roi":"LT Femoral Head","plan":"Hyperion","dose":12.1,"vol":89},{"roi":"LT Femoral Head","plan":"Hyperion","dose":12.7,"vol":87},{"roi":"LT Femoral Head","plan":"Hyperion","dose":13.2,"vol":84.7},{"roi":"LT Femoral Head","plan":"Hyperion","dose":13.9,"vol":81.6},{"roi":"LT Femoral Head","plan":"Hyperion","dose":14.8,"vol":79.7},{"roi":"LT Femoral Head","plan":"Hyperion","dose":15.6,"vol":77.7},{"roi":"LT Femoral Head","plan":"Hyperion","dose":16.4,"vol":75.4},{"roi":"LT Femoral Head","plan":"Hyperion","dose":17.2,"vol":72},{"roi":"LT Femoral Head","plan":"Hyperion","dose":18,"vol":67.7},{"roi":"LT Femoral Head","plan":"Hyperion","dose":18.6,"vol":63.8},{"roi":"LT Femoral Head","plan":"Hyperion","dose":19.2,"vol":59.9},{"roi":"LT Femoral Head","plan":"Hyperion","dose":19.6,"vol":56.1},{"roi":"LT Femoral Head","plan":"Hyperion","dose":20.2,"vol":52.1},{"roi":"LT Femoral Head","plan":"Hyperion","dose":20.6,"vol":48.3},{"roi":"LT Femoral Head","plan":"Hyperion","dose":21.1,"vol":44.5},{"roi":"LT Femoral Head","plan":"Hyperion","dose":21.9,"vol":38.2},{"roi":"LT Femoral Head","plan":"Hyperion","dose":22.2,"vol":36.7},{"roi":"LT Femoral Head","plan":"Hyperion","dose":23.2,"vol":30},{"roi":"LT Femoral Head","plan":"Hyperion","dose":24.5,"vol":23.9},{"roi":"LT Femoral Head","plan":"Hyperion","dose":25.9,"vol":18.9},{"roi":"LT Femoral Head","plan":"Hyperion","dose":27.7,"vol":13.8},{"roi":"LT Femoral Head","plan":"Hyperion","dose":29.8,"vol":10},{"roi":"LT Femoral Head","plan":"Hyperion","dose":31.4,"vol":7.3},{"roi":"LT Femoral Head","plan":"Hyperion","dose":33.5,"vol":4},{"roi":"LT Femoral Head","plan":"Hyperion","dose":34.8,"vol":2.3},{"roi":"LT Femoral Head","plan":"Hyperion","dose":36.2,"vol":1},{"roi":"LT Femoral Head","plan":"Hyperion","dose":38.2,"vol":0.3},{"roi":"LT Femoral Head","plan":"Hyperion","dose":40,"vol":0},
{"roi":"LT Femoral Head","plan":"Eclipse","dose":0,"vol":100},{"roi":"LT Femoral Head","plan":"Eclipse","dose":4.75,"vol":100},{"roi":"LT Femoral Head","plan":"Eclipse","dose":6.6,"vol":98.6},{"roi":"LT Femoral Head","plan":"Eclipse","dose":8.2,"vol":96.7},{"roi":"LT Femoral Head","plan":"Eclipse","dose":9.7,"vol":94.8},{"roi":"LT Femoral Head","plan":"Eclipse","dose":10.8,"vol":93.3},{"roi":"LT Femoral Head","plan":"Eclipse","dose":11.9,"vol":91.6},{"roi":"LT Femoral Head","plan":"Eclipse","dose":12.7,"vol":90.1},{"roi":"LT Femoral Head","plan":"Eclipse","dose":13.2,"vol":88.2},{"roi":"LT Femoral Head","plan":"Eclipse","dose":13.9,"vol":85.5},{"roi":"LT Femoral Head","plan":"Eclipse","dose":14.5,"vol":82.3},{"roi":"LT Femoral Head","plan":"Eclipse","dose":15.3,"vol":80},{"roi":"LT Femoral Head","plan":"Eclipse","dose":16.1,"vol":78.2},{"roi":"LT Femoral Head","plan":"Eclipse","dose":16.9,"vol":75.4},{"roi":"LT Femoral Head","plan":"Eclipse","dose":17.7,"vol":71.5},{"roi":"LT Femoral Head","plan":"Eclipse","dose":18.4,"vol":68.4},{"roi":"LT Femoral Head","plan":"Eclipse","dose":19.2,"vol":63.8},{"roi":"LT Femoral Head","plan":"Eclipse","dose":19.8,"vol":59.9},{"roi":"LT Femoral Head","plan":"Eclipse","dose":20.3,"vol":56.1},{"roi":"LT Femoral Head","plan":"Eclipse","dose":20.8,"vol":53},{"roi":"LT Femoral Head","plan":"Eclipse","dose":21.4,"vol":49.1},{"roi":"LT Femoral Head","plan":"Eclipse","dose":21.9,"vol":45.2},{"roi":"LT Femoral Head","plan":"Eclipse","dose":22.7,"vol":38.2},{"roi":"LT Femoral Head","plan":"Eclipse","dose":23,"vol":36.7},{"roi":"LT Femoral Head","plan":"Eclipse","dose":24.1,"vol":30},{"roi":"LT Femoral Head","plan":"Eclipse","dose":25.6,"vol":24.3},{"roi":"LT Femoral Head","plan":"Eclipse","dose":27.2,"vol":18.9},{"roi":"LT Femoral Head","plan":"Eclipse","dose":29.1,"vol":13.8},{"roi":"LT Femoral Head","plan":"Eclipse","dose":30.3,"vol":10.5},{"roi":"LT Femoral Head","plan":"Eclipse","dose":32.5,"vol":6.5},{"roi":"LT Femoral Head","plan":"Eclipse","dose":34.8,"vol":3.5},{"roi":"LT Femoral Head","plan":"Eclipse","dose":36,"vol":1.8},{"roi":"LT Femoral Head","plan":"Eclipse","dose":37.5,"vol":0.9},{"roi":"LT Femoral Head","plan":"Eclipse","dose":39,"vol":0.2},{"roi":"LT Femoral Head","plan":"Eclipse","dose":40,"vol":0}
]},
"data":{"name":"dvh"},
"mark":{"type":"line","strokeWidth":2,"clip":true},
"encoding":{
"x":{"field":"dose","type":"quantitative","scale":{"domain":[0,90],"nice":false,"zero":false},
"axis":{"values":[0,10,20,30,40,50,60,70,80,90],"labelFlush":false,"title":"Absolute dose in Gy","titleY":26,"titleBaseline":"top","titleX":568}},
"y":{"field":"vol","type":"quantitative","scale":{"domain":[0,100],"nice":false},
"axis":{"values":[0,10,20,30,40,50,60,70,80,90,100],"labelFlush":false,"title":"Volume in %","titleX":-53,"titleY":430,"titleAngle":-90,"titleAlign":"center","titleBaseline":"middle"}},
"color":{"field":"roi","type":"nominal","title":null,
"scale":{"domain":["PTV7000","OPTrectum","BODY","Bladder","Sigmoid","Penile Bulb","Prostatic Fossa","RT Femoral Head","Rectum","LT Femoral Head"],
"range":["#8b0000","#cd6543","#e5e500","#e8a317","#cf2f8c","#2f4f4f","#0000ff","#008b8b","#008000","#8b008b"]},
"legend":{"orient":"none","legendX":923,"legendY":7,"symbolType":"M-2.5,0H2.5","symbolSize":353,"symbolOffset":13,"symbolStrokeWidth":2,"labelFontSize":18,"labelFont":"Liberation Sans","labelColor":"#1a1a1a","labelOffset":17,"padding":7,"rowPadding":3.6,"strokeColor":"#333333","fillColor":"white","labelLimit":300}},
"strokeDash":{"field":"plan","type":"nominal","scale":{"domain":["Hyperion","Eclipse"],"range":[[1,0],[6,4]]},"legend":null}
},
"config":{
"font":"Liberation Sans",
"view":{"stroke":"#262626","strokeWidth":1},
"axis":{"labelFont":"Liberation Sans","labelFontSize":18,"labelColor":"#333333","titleFont":"Liberation Sans","titleFontSize":18,"titleFontWeight":"normal","titleColor":"#262626",
"grid":true,"gridColor":"#111111","gridDash":[3,3],"gridWidth":1,"gridOpacity":0.85,
"domain":true,"domainColor":"#262626","ticks":true,"tickSize":-8,"tickColor":"#262626","labelPadding":14}
}
}
